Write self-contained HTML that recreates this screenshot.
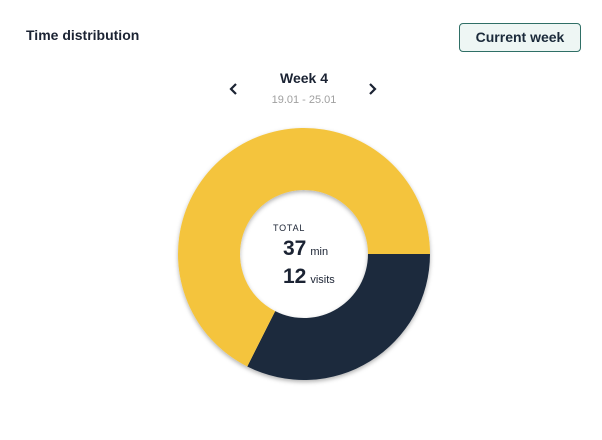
<!DOCTYPE html>
<html><head><meta charset="utf-8"><style>
body{margin:0;width:602px;height:440px;background:#fff;font-family:"Liberation Sans",sans-serif;position:relative;overflow:hidden}
.abs{position:absolute}
</style></head><body>
<div class="abs" style="left:26px;top:27px;font-size:14px;font-weight:bold;color:#1b2333">Time distribution</div>
<div class="abs" style="left:459px;top:23px;width:120px;height:27px;border:1px solid #2f6f66;border-radius:4px;background:#eef6f4;font-size:14px;font-weight:bold;color:#1b2a3a;text-align:center;line-height:27px">Current week</div>
<svg class="abs" style="left:228px;top:82px" width="12" height="14"><polyline points="8,2 3,7 8,12" fill="none" stroke="#1b2333" stroke-width="2.2"/></svg>
<svg class="abs" style="left:366px;top:82px" width="12" height="14"><polyline points="4,2 9,7 4,12" fill="none" stroke="#1b2333" stroke-width="2.2"/></svg>
<div class="abs" style="left:254px;top:70px;width:100px;text-align:center;font-size:14px;font-weight:bold;color:#1b2333">Week 4</div>
<div class="abs" style="left:254px;top:94px;width:100px;text-align:center;font-size:11px;color:#a0a0a0">19.01 - 25.01</div>
<svg class="abs" style="left:0;top:0" width="602" height="440" id="chart">
<defs><filter id="sh" x="-20%" y="-20%" width="140%" height="140%"><feDropShadow dx="0" dy="2" stdDeviation="2" flood-opacity="0.3"/></filter></defs>
<g id="slices" filter="url(#sh)"></g>
<text x="273" y="231" font-size="9" fill="#1b2333" letter-spacing="0.8">TOTAL</text>
<text x="283" y="255" font-size="21" font-weight="bold" fill="#1b2333">37<tspan font-size="11" font-weight="normal" dx="4">min</tspan></text>
<text x="283" y="283" font-size="21" font-weight="bold" fill="#1b2333">12<tspan font-size="11" font-weight="normal" dx="4">visits</tspan></text>
</svg>
<script>
const categories=["dark","yellow"];
const values=[12,25];
const colors=["#1b2a3e","#f4c43e"];
const cx=304,cy=254,R=126,r=64;
const g=document.getElementById('slices');
const total=values.reduce((a,b)=>a+b,0);
let a0=0;
values.forEach((v,i)=>{
 const a1=a0+v/total*2*Math.PI;
 const large=(a1-a0)>Math.PI?1:0;
 const p=(rad,a)=>[cx+rad*Math.cos(a),cy+rad*Math.sin(a)];
 const [x0,y0]=p(R,a0),[x1,y1]=p(R,a1),[x2,y2]=p(r,a1),[x3,y3]=p(r,a0);
 const path=document.createElementNS('http://www.w3.org/2000/svg','path');
 path.setAttribute('d',`M${x0},${y0}A${R},${R} 0 ${large} 1 ${x1},${y1}L${x2},${y2}A${r},${r} 0 ${large} 0 ${x3},${y3}Z`);
 path.setAttribute('fill',colors[i]);
 
 
 g.appendChild(path);
 a0=a1;
});
</script>
</body></html>
